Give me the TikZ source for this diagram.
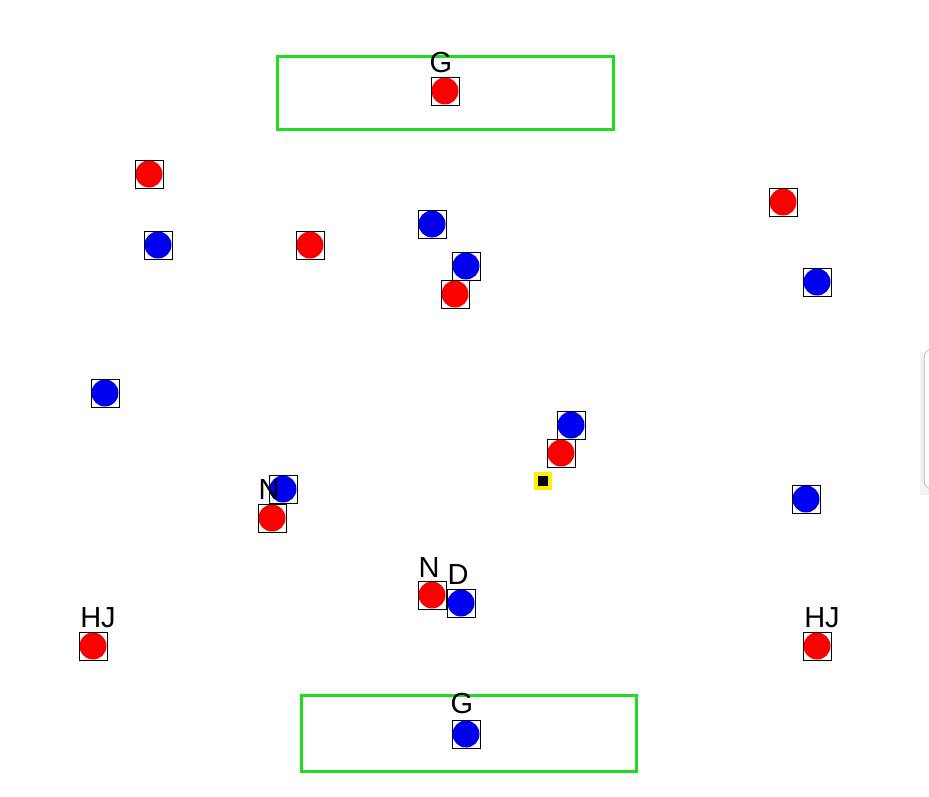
\documentclass[tikz,border=0pt]{standalone}
\usepackage{fontspec}
\setmainfont{Liberation Sans}
\definecolor{pgreen}{RGB}{30,220,30}
\definecolor{pred}{RGB}{250,0,0}
\definecolor{pblue}{RGB}{0,0,240}
\definecolor{pyel}{RGB}{250,240,0}
\begin{document}
\begin{tikzpicture}[x=1pt,y=-1pt,
  pl/.style={draw=black,line width=0.8pt,rectangle,minimum size=28pt,inner sep=0pt,
    path picture={\fill[#1] (path picture bounding box.center) circle (13.5pt);}},
  goalbox/.style={draw=pgreen,line width=3pt},
  lab/.style={font=\fontsize{29}{30}\selectfont,inner sep=0pt,text=black}]
\useasboundingbox (0,0) rectangle (929,797);
% side panel (partially visible)
\fill[black!5] (920,352) rectangle (929,495);
\draw[black!22,line width=1pt,fill=white,rounded corners=10pt] (924,348) rectangle (960,490);
% goal boxes
\draw[goalbox] (277,57) rectangle (613,130);
\draw[goalbox] (301,695) rectangle (636,771);
% red players
\node[pl=pred] (r1) at (445,91) {};
\node[pl=pred] (r2) at (149,174) {};
\node[pl=pred] (r3) at (310,245) {};
\node[pl=pred] (r4) at (455,294) {};
\node[pl=pred] (r5) at (783,202) {};
\node[pl=pred] (r6) at (561,453) {};
\node[pl=pred] (r7) at (272,518) {};
\node[pl=pred] (r8) at (432,595) {};
\node[pl=pred] (r9) at (93,646) {};
\node[pl=pred] (r10) at (817,646) {};
% blue players
\node[pl=pblue] (b1) at (158,245) {};
\node[pl=pblue] (b2) at (432,224) {};
\node[pl=pblue] (b3) at (466,266) {};
\node[pl=pblue] (b4) at (817,282) {};
\node[pl=pblue] (b5) at (105,393) {};
\node[pl=pblue] (b6) at (571,425) {};
\node[pl=pblue] (b7) at (283,489) {};
\node[pl=pblue] (b8) at (806,499) {};
\node[pl=pblue] (b9) at (461,603) {};
\node[pl=pblue] (b10) at (466,734) {};
% ball
\node[draw=pyel,fill=black,line width=3.5pt,minimum size=14pt,inner sep=0pt] (ball) at (543,481) {};
% labels
\node[lab] (lg1) at (441,63) {G};
\node[lab] (lg2) at (462,704) {G};
\node[lab] (ln1) at (269,490) {N};
\node[lab] (ln2) at (429,568) {N};
\node[lab] (ld) at (458,575) {D};
\node[lab] (lh1) at (98,618) {HJ};
\node[lab] (lh2) at (822,618) {HJ};
\end{tikzpicture}
\end{document}
